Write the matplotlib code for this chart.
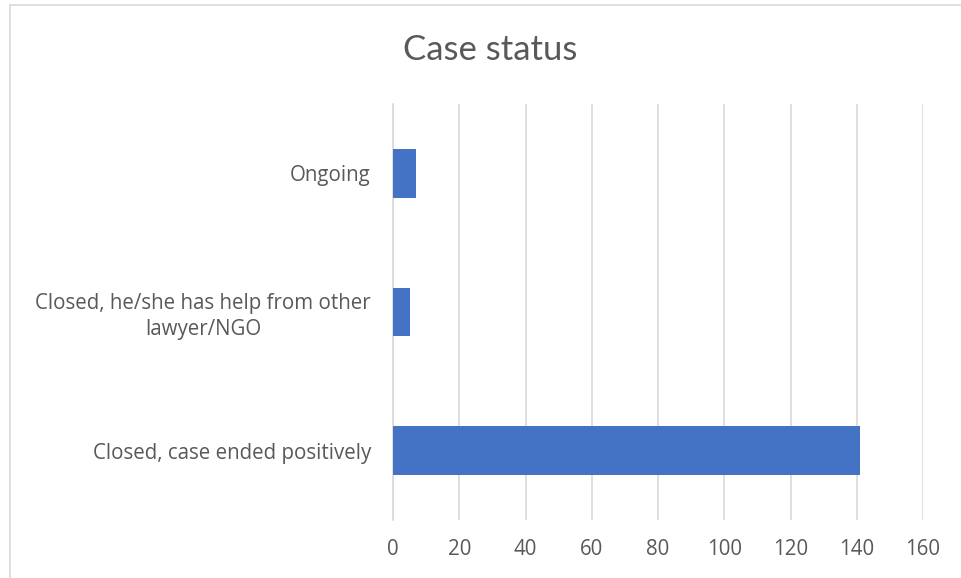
import matplotlib

matplotlib.use("Agg")
import matplotlib.pyplot as plt
from matplotlib.patches import Rectangle

categories = [
    "Closed, case ended positively",
    "Closed, he/she has help from other\nlawyer/NGO",
    "Ongoing",
]
counts = [141, 5, 7]
x_ticks = [0, 20, 40, 60, 80, 100, 120, 140, 160]

TEXT = "#595959"
GRID = "#D9D9D9"
BAR = "#4472C4"

plt.rcParams["font.family"] = ["Open Sans", "DejaVu Sans"]

fig = plt.figure(figsize=(9.61, 5.78), dpi=100)
ax = fig.add_axes([393 / 961, 58 / 578, 530 / 961, 416 / 578])

ax.barh(range(len(categories)), counts, height=0.35, color=BAR, zorder=3)

ax.set_xlim(0, 160)
ax.set_ylim(-0.5, len(categories) - 0.5)
ax.set_xticks(x_ticks)
ax.set_yticks(range(len(categories)))
ax.set_yticklabels(categories, multialignment="center", linespacing=1.3)
ax.grid(axis="x", color=GRID, linewidth=1.2, zorder=0)
ax.tick_params(axis="x", length=0, pad=14, labelsize=14.8, colors=TEXT)
ax.tick_params(axis="y", length=0, pad=16, labelsize=14.8, colors=TEXT)

for side in ["top", "right", "bottom"]:
    ax.spines[side].set_visible(False)
ax.spines["left"].set_color(GRID)
ax.spines["left"].set_linewidth(1.2)

fig.text(490 / 961, 1 - 50 / 578, "Case status", ha="center", va="center",
         fontsize=25, color=TEXT, family=["Lato", "DejaVu Sans"])

# chart frame (light grey border on top/left)
fig.patches.append(Rectangle((10 / 961, -0.01), 1.0, 1 - 5 / 578 + 0.01,
                             transform=fig.transFigure, fill=False,
                             edgecolor=GRID, linewidth=1.2))

fig.savefig("out.png", dpi=100)
